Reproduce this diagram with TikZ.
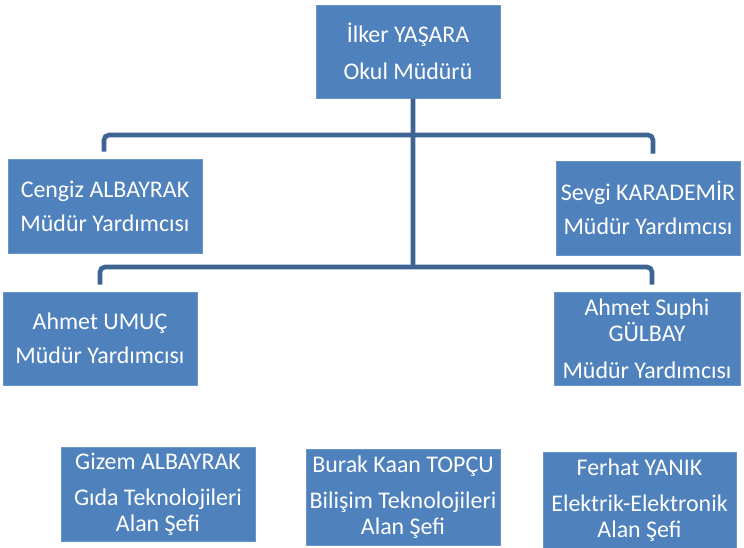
\documentclass[tikz,border=0pt]{standalone}
\usepackage{fontspec}
\setmainfont{Carlito}
\definecolor{boxblue}{RGB}{79,129,189}
\definecolor{lineblue}{RGB}{62,100,148}
\begin{document}
\begin{tikzpicture}[x=1bp,y=-1bp,
  box/.style={fill=boxblue,draw=boxblue!85!white,line width=0.6bp,text=white,
    font=\fontsize{24}{26}\selectfont,align=center,inner sep=0pt},
  conn/.style={draw=lineblue,line width=4.6bp,rounded corners=5bp}]
\useasboundingbox (0,0) rectangle (744,548);
\node[box,minimum width=184bp,minimum height=93bp] (top) at (408,51.5) {İlker YAŞARA\\[11bp]Okul Müdürü};
\node[box,minimum width=194bp,minimum height=94bp] (cengiz) at (105,206) {Cengiz ALBAYRAK\\[8bp]Müdür Yardımcısı};
\node[box,minimum width=184bp,minimum height=94bp] (sevgi) at (648,208) {Sevgi KARADEMİR\\[8bp]Müdür Yardımcısı};
\node[box,minimum width=194bp,minimum height=93bp] (umuc) at (100,338.5) {Ahmet UMUÇ\\[8bp]Müdür Yardımcısı};
\node[box,minimum width=186bp,minimum height=93bp] (suphi) at (647,338.5) {Ahmet Suphi\\GÜLBAY\\[11bp]Müdür Yardımcısı};
\node[box,minimum width=194bp,minimum height=94bp] (gizem) at (158,494) {Gizem ALBAYRAK\\[10bp]Gıda Teknolojileri\\Alan Şefi};
\node[box,minimum width=194bp,minimum height=96bp] (burak) at (403,497) {Burak Kaan TOPÇU\\[10bp]Bilişim Teknolojileri\\Alan Şefi};
\node[box,minimum width=193bp,minimum height=96bp] (ferhat) at (639.5,500) {Ferhat YANIK\\[10bp]Elektrik-Elektronik\\Alan Şefi};
\coordinate (j1) at (413,135);
\coordinate (j2) at (413,267);
\draw[conn] ([xshift=5bp]top.south) -- ([yshift=-2bp]j2);
\draw[conn] ([xshift=-1bp,yshift=7bp]cengiz.north) |- (j1) -| ([xshift=5bp,yshift=7bp]sevgi.north);
\draw[conn] ([yshift=7bp]umuc.north) |- (j2) -| ([xshift=5bp,yshift=7bp]suphi.north);
\end{tikzpicture}
\end{document}
